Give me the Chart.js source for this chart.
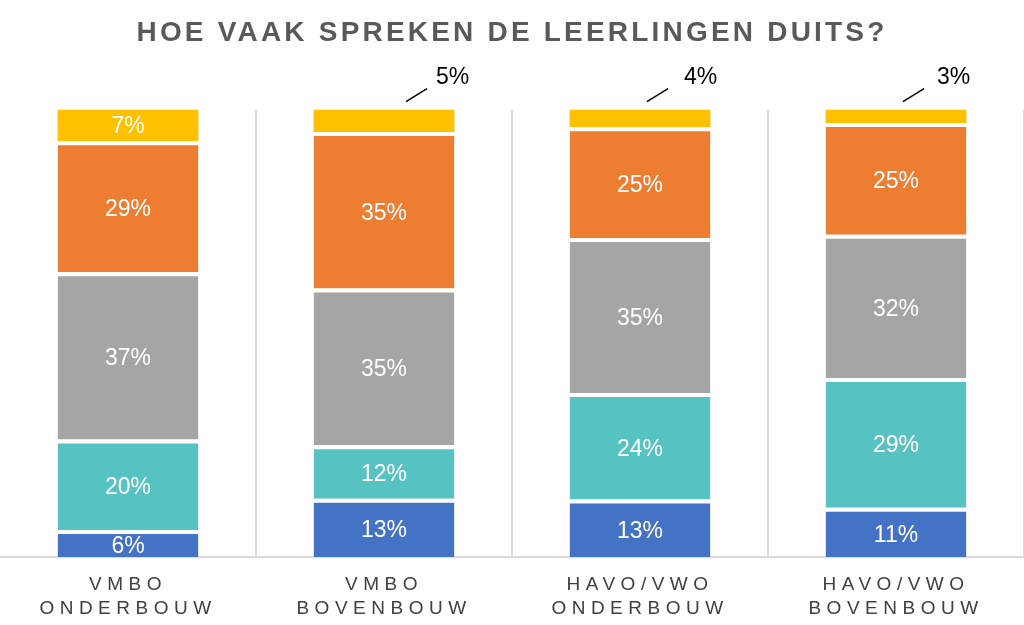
<!DOCTYPE html>
<html>
<head>
<meta charset="utf-8">
<script src="https://cdn.jsdelivr.net/npm/chart.js@4/dist/chart.umd.min.js"></script>
<style>
  html, body { margin: 0; padding: 0; background: #fff; }
  #wrap { width: 1024px; height: 625px; }
</style>
</head>
<body>
<div id="wrap"><canvas id="myChart"></canvas></div>
<script>
// categories (two-line labels)
var categories = [['VMBO', 'ONDERBOUW'], ['VMBO', 'BOVENBOUW'], ['HAVO/VWO', 'ONDERBOUW'], ['HAVO/VWO', 'BOVENBOUW']];

// percentages per answer, bottom to top
var seriesA = [6, 13, 13, 11];
var seriesB = [20, 12, 24, 29];
var seriesC = [37, 35, 35, 32];
var seriesD = [29, 35, 25, 25];
var seriesE = [7, 5, 4, 3];

var allSeries = [seriesA, seriesB, seriesC, seriesD, seriesE];
var colors = ['#4472C4', '#56C3C2', '#A5A5A5', '#ED7D31', '#FFC000'];

// 100% stacked, like the Excel original
var totals = categories.map(function (c, i) {
  return allSeries.reduce(function (s, arr) { return s + arr[i]; }, 0);
});

var datasets = allSeries.map(function (arr, k) {
  return {
    data: arr.map(function (v, i) { return v / totals[i] * 100; }),
    raw: arr,
    backgroundColor: colors[k],
    borderColor: '#ffffff',
    borderSkipped: false,
    borderWidth: { top: k === allSeries.length - 1 ? 0 : 4, bottom: 0, left: 0, right: 0 },
    categoryPercentage: 0.55,
    barPercentage: 1
  };
});

// title gets tighter spacing than the axis labels
var spacing = {
  id: 'spacing',
  beforeDraw: function (chart) {
    chart.ctx.letterSpacing = '3.2px';
  },
  afterDatasetsDraw: function (chart) {
    chart.ctx.letterSpacing = '5.5px';
  }
};

var barLabels = {
  id: 'barLabels',
  afterDatasetsDraw: function (chart, args, opts) {
    var ctx = chart.ctx;
    ctx.save();
    ctx.letterSpacing = '0px';
    ctx.font = '23px "Liberation Sans", Arial, sans-serif';
    ctx.textBaseline = 'middle';
    chart.data.datasets.forEach(function (ds, k) {
      var meta = chart.getDatasetMeta(k);
      meta.data.forEach(function (bar, i) {
        var v = ds.raw[i];
        var txt = v + '%';
        if (v <= 5) {
          var x0 = bar.x + opts.calloutDx[i];
          var y0 = bar.y - 8;
          ctx.strokeStyle = '#000';
          ctx.lineWidth = 1.5;
          ctx.beginPath();
          ctx.moveTo(x0, y0);
          ctx.lineTo(x0 + 21, y0 - 13);
          ctx.stroke();
          ctx.fillStyle = '#000';
          ctx.textAlign = 'left';
          ctx.fillText(txt, x0 + 21 + opts.calloutGap[i], y0 - 24);
        } else {
          ctx.fillStyle = '#fff';
          ctx.textAlign = 'center';
          var top = bar.y + (k === 4 ? 0 : 4);
          ctx.fillText(txt, bar.x, (top + bar.base) / 2 + 1);
        }
      });
    });
    ctx.restore();
  }
};

var ctx = document.getElementById('myChart').getContext('2d');
var myChart = new Chart(ctx, {
  type: 'bar',
  data: {
    labels: categories,
    datasets: datasets
  },
  options: {
    responsive: true,
    maintainAspectRatio: false,
    animation: false,
    layout: { padding: { left: 0, right: 0, top: 0, bottom: -12 } },
    plugins: {
      legend: { display: false },
      tooltip: { enabled: false },
      title: {
        display: true,
        text: 'HOE VAAK SPREKEN DE LEERLINGEN DUITS?',
        color: '#595959',
        font: { family: '"Liberation Sans", Arial, sans-serif', size: 28, weight: 'bold', lineHeight: 1.2 },
        padding: { top: 16, bottom: 60 }
      },
      barLabels: {
        calloutDx: [0, 22, 7, 7],
        calloutGap: [9, 9, 16, 13]
      }
    },
    scales: {
      x: {
        stacked: true,
        grid: {
          offset: true,
          drawTicks: false,
          lineWidth: 2,
          color: function (c) {
            return (c.index === 0 || c.index === categories.length) ? 'rgba(0,0,0,0)' : '#D9D9D9';
          }
        },
        border: { display: true, color: '#D9D9D9', width: 2 },
        ticks: {
          z: 1,
          color: '#404040',
          padding: 16,
          maxRotation: 0,
          font: { family: '"Liberation Sans", Arial, sans-serif', size: 19, lineHeight: '24px' }
        }
      },
      y: {
        stacked: true,
        display: false,
        min: 0,
        max: 100
      }
    }
  },
  plugins: [barLabels, spacing]
});
</script>
</body>
</html>
